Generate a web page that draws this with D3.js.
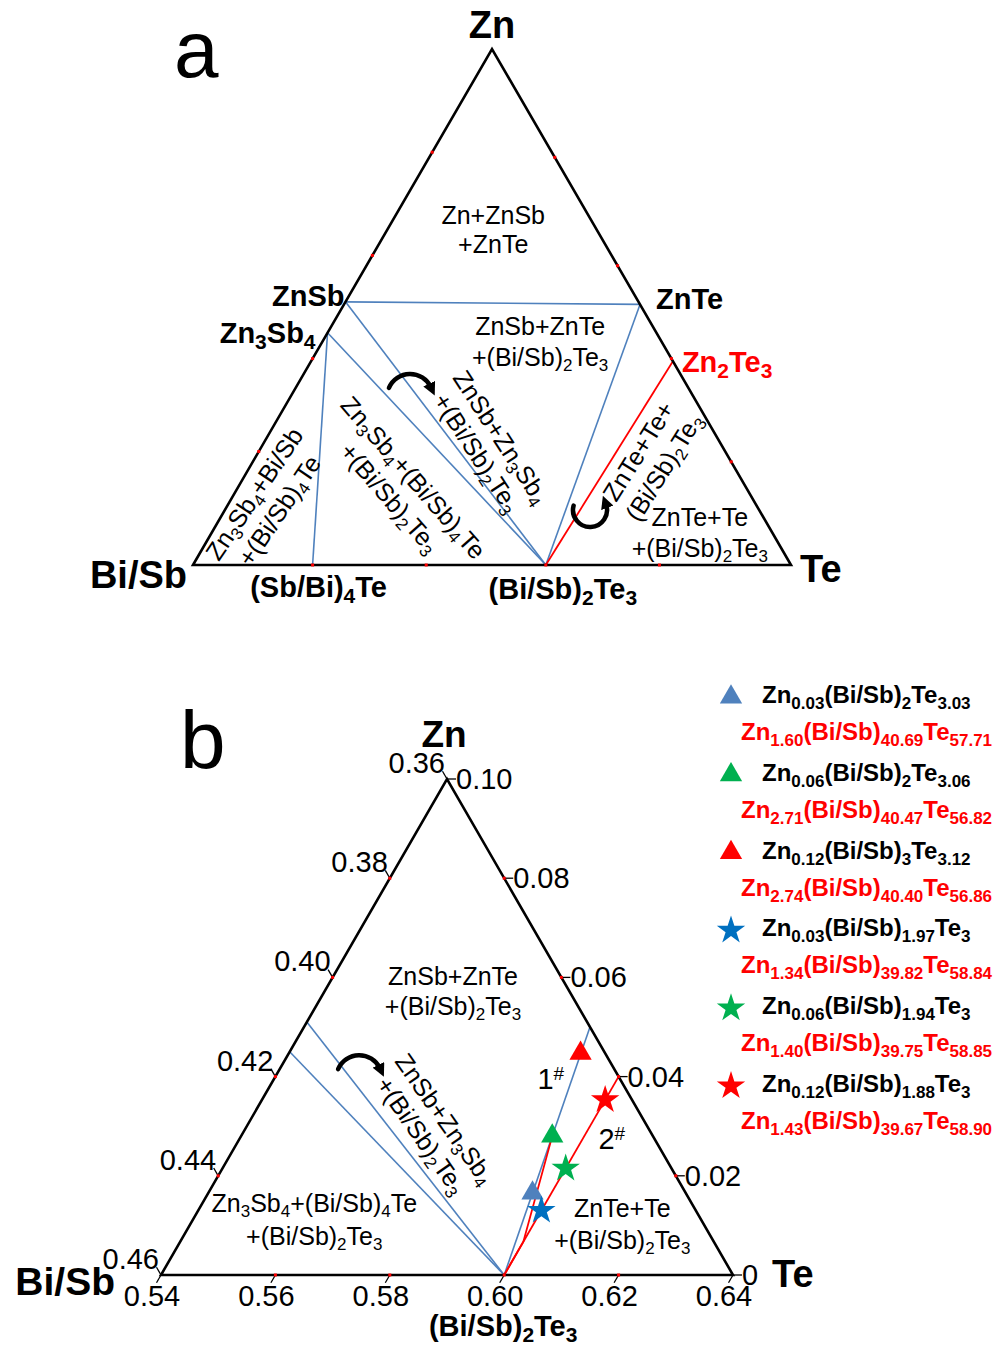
<!DOCTYPE html>
<html>
<head>
<meta charset="utf-8">
<script src="https://cdn.jsdelivr.net/npm/d3@7/dist/d3.min.js"></script>
<style>
  body { margin: 0; background: #fff; }
</style>
</head>
<body>
<div id="chart"></div>
<script>
// ---------- data ----------
// compositions are mole fractions [Zn, Te]; Bi/Sb is the rest
const phaseNamesA = ['ZnSb', 'Zn_{3}Sb_{4}', 'ZnTe', 'Zn_{2}Te_{3}', '(Sb/Bi)_{4}Te', '(Bi/Sb)_{2}Te_{3}'];
const phaseZnA = [0.51, 0.45, 0.505, 0.395, 0, 0];
const phaseTeA = [0, 0, 0.495, 0.605, 0.2, 0.59];
// tie lines, by phase index
const blueTiesA = [[0, 2], [0, 5], [1, 5], [1, 4], [2, 5]];
const redTiesA = [[3, 5]];
// small red marks on the edges of panel a
const dotsLeftA = [0.22, 0.40, 0.60, 0.80];   // Zn on Zn–Bi/Sb edge
const dotsRightA = [0.20, 0.40, 0.58, 0.79];  // Zn on Zn–Te edge
const dotsBaseA = [0.2, 0.39, 0.59, 0.78];    // Te on base

// panel b axis ticks
const ticksTe = [0.54, 0.56, 0.58, 0.60, 0.62, 0.64];
const ticksBiSb = [0.46, 0.44, 0.42, 0.40, 0.38, 0.36];
const ticksZn = [0, 0.02, 0.04, 0.06, 0.08, 0.10];

// panel b lines, as lists of [Zn, Te]
const blueLinesB = [
  [[0.051, 0.54], [0, 0.60]],
  [[0.045, 0.54], [0, 0.60]],
  [[0, 0.60], [0.05, 0.59]]
];
const redLinesB = [
  [[0, 0.60], [0.04, 0.60]],
  [[0, 0.60], [0.0067, 0.60], [0.028, 0.5944]]
];

// samples
const sampleShapes = ['triangle', 'triangle', 'triangle', 'star', 'star', 'star'];
const sampleZn = [0.0165, 0.028, 0.0447, 0.013, 0.0215, 0.0353];
const sampleTe = [0.5967, 0.5944, 0.5910, 0.600, 0.600, 0.600];
const nominalFormulas = [
  'Zn_{0.03}(Bi/Sb)_{2}Te_{3.03}',
  'Zn_{0.06}(Bi/Sb)_{2}Te_{3.06}',
  'Zn_{0.12}(Bi/Sb)_{3}Te_{3.12}',
  'Zn_{0.03}(Bi/Sb)_{1.97}Te_{3}',
  'Zn_{0.06}(Bi/Sb)_{1.94}Te_{3}',
  'Zn_{0.12}(Bi/Sb)_{1.88}Te_{3}'
];
const measuredFormulas = [
  'Zn_{1.60}(Bi/Sb)_{40.69}Te_{57.71}',
  'Zn_{2.71}(Bi/Sb)_{40.47}Te_{56.82}',
  'Zn_{2.74}(Bi/Sb)_{40.40}Te_{56.86}',
  'Zn_{1.34}(Bi/Sb)_{39.82}Te_{58.84}',
  'Zn_{1.40}(Bi/Sb)_{39.75}Te_{58.85}',
  'Zn_{1.43}(Bi/Sb)_{39.67}Te_{58.90}'
];
const sampleColors = ['#4f81bd', '#00b050', '#ff0000', '#0070c0', '#00b050', '#ff0000'];

// region annotations [Zn, Te] of block centre
const regionsA = [
  { lines: ['Zn+ZnSb', '+ZnTe'], zn: 0.650, te: 0.177, angle: 0, gap: 29 },
  { lines: ['ZnSb+ZnTe', '+(Bi/Sb)_{2}Te_{3}'], zn: 0.433, te: 0.364, angle: 0, gap: 31 },
  { lines: ['ZnSb+Zn_{3}Sb_{4}', '+(Bi/Sb)_{2}Te_{3}'], zn: 0.2326, te: 0.379, angle: 57, gap: 29 },
  { lines: ['Zn_{3}Sb_{4}+(Bi/Sb)_{4}Te', '+(Bi/Sb)_{2}Te_{3}'], zn: 0.150, te: 0.274, angle: 49, gap: 31 },
  { lines: ['Zn_{3}Sb_{4}+Bi/Sb', '+(Bi/Sb)_{4}Te'], zn: 0.122, te: 0.062, angle: -56, gap: 30 },
  { lines: ['ZnTe+Te+', '(Bi/Sb)_{2}Te_{3}'], zn: 0.2054, te: 0.663, angle: -58, gap: 30 },
  { lines: ['ZnTe+Te', '+(Bi/Sb)_{2}Te_{3}'], zn: 0.063, te: 0.816, angle: 0, gap: 31 }
];
const regionsB = [
  { lines: ['ZnSb+ZnTe', '+(Bi/Sb)_{2}Te_{3}'], zn: 0.0573, te: 0.5624, angle: 0, gap: 30 },
  { lines: ['Zn_{3}Sb_{4}+(Bi/Sb)_{4}Te', '+(Bi/Sb)_{2}Te_{3}'], zn: 0.0112, te: 0.5612, angle: 0, gap: 33 },
  { lines: ['ZnSb+Zn_{3}Sb_{4}', '+(Bi/Sb)_{2}Te_{3}'], zn: 0.0298, te: 0.5727, angle: 55, gap: 29 },
  { lines: ['ZnTe+Te', '+(Bi/Sb)_{2}Te_{3}'], zn: 0.0103, te: 0.6155, angle: 0, gap: 32 },
  { lines: ['1^{#}'], zn: 0.0393, te: 0.5885, angle: 0, gap: 0 },
  { lines: ['2^{#}'], zn: 0.0272, te: 0.6052, angle: 0, gap: 0 }
];
const arrowsA = [{ zn: 0.3547, te: 0.1856, kind: 'over' }, { zn: 0.093, te: 0.6174, kind: 'under' }];
const arrowsB = [{ zn: 0.0427, te: 0.5533, kind: 'over' }];

// ---------- setup ----------
const FONT = "'Liberation Sans', Arial, Helvetica, sans-serif";
const svg = d3.select('#chart').append('svg')
  .attr('width', 1003).attr('height', 1347)
  .style('background', '#fff');

svg.append('defs').append('marker')
  .attr('id', 'head')
  .attr('markerUnits', 'userSpaceOnUse')
  .attr('viewBox', '0 0 10 10')
  .attr('refX', 3).attr('refY', 5)
  .attr('markerWidth', 13).attr('markerHeight', 13)
  .attr('orient', 'auto')
  .append('path').attr('d', 'M0,0L10,5L0,10z').attr('fill', '#000');

// writes 'Zn_{2}Te_{3}' style strings as tspans
function formula(text, str, subSize, shift) {
  const parts = str.split(/([_^]\{[^}]*\})/).filter(s => s.length);
  let cur = 0;
  parts.forEach(p => {
    let target = 0, txt = p, small = false;
    if (p[0] === '_') { target = shift; txt = p.slice(2, -1); small = true; }
    if (p[0] === '^') { target = -shift * 1.9; txt = p.slice(2, -1); small = true; }
    const t = text.append('tspan').attr('dy', target - cur).text(txt);
    if (small) t.attr('font-size', subSize);
    cur = target;
  });
}

function label(g, x, y, str, o) {
  const t = g.append('text')
    .attr('x', x).attr('y', y)
    .attr('text-anchor', o.anchor || 'middle')
    .attr('font-family', FONT)
    .attr('font-size', o.size)
    .attr('font-weight', o.bold ? 'bold' : 'normal')
    .attr('fill', o.color || '#000');
  formula(t, str, o.sub || Math.round(o.size * 0.7), o.shift || Math.round(o.size * 0.22));
  return t;
}

function ternary(xs, ys) {
  return (zn, te) => [xs(te + zn / 2), ys(zn)];
}

function drawRegions(g, regions, P) {
  regions.forEach(r => {
    const [cx, cy] = P(r.zn, r.te);
    const gg = g.append('g').attr('transform', `translate(${cx},${cy}) rotate(${r.angle})`);
    const n = r.lines.length;
    r.lines.forEach((s, i) => {
      label(gg, 0, (i - (n - 1) / 2) * r.gap + 9, s, { size: n > 1 ? 25 : 29, sub: n > 1 ? 17 : 19, shift: 5 });
    });
  });
}

function drawArrows(g, arrows, P) {
  arrows.forEach(a => {
    const [cx, cy] = P(a.zn, a.te);
    const p = d3.path();
    if (a.kind === 'over') {
      p.arc(0, 15, 23, Math.PI * 1.13, Math.PI * 1.86);
    } else {
      p.arc(0, -7, 17, Math.PI * 195 / 180, -Math.PI * 20 / 180, true);
    }
    g.append('path')
      .attr('transform', `translate(${cx},${cy})`)
      .attr('d', p.toString())
      .attr('fill', 'none').attr('stroke', '#000')
      .attr('stroke-width', 4.5).attr('stroke-linecap', 'round')
      .attr('marker-end', 'url(#head)');
  });
}

// ---------- panel a ----------
const xA = d3.scaleLinear().domain([0, 1]).range([193, 791]);
const yA = d3.scaleLinear().domain([0, 1]).range([565, 49]);
const PA = ternary(xA, yA);
const gA = svg.append('g');
const line = d3.line();

const phaseA = phaseNamesA.map((n, i) => PA(phaseZnA[i], phaseTeA[i]));

blueTiesA.forEach(([a, b]) => {
  gA.append('path').attr('d', line([phaseA[a], phaseA[b]]))
    .attr('fill', 'none').attr('stroke', '#4f81bd').attr('stroke-width', 1.6);
});
redTiesA.forEach(([a, b]) => {
  gA.append('path').attr('d', line([phaseA[a], phaseA[b]]))
    .attr('fill', 'none').attr('stroke', '#ff0000').attr('stroke-width', 1.8);
});

gA.append('path')
  .attr('d', line([PA(0, 0), PA(1, 0), PA(0, 1)]) + 'Z')
  .attr('fill', 'none').attr('stroke', '#000').attr('stroke-width', 2.6)
  .attr('stroke-linejoin', 'miter');

const dotA = [].concat(
  dotsLeftA.map(z => PA(z, 0)),
  dotsRightA.map(z => PA(z, 1 - z)),
  dotsBaseA.map(t => PA(0, t))
);
gA.selectAll('rect.dot').data(dotA).join('rect')
  .attr('x', d => d[0] - 1.5).attr('y', d => d[1] - 1.5)
  .attr('width', 3).attr('height', 3).attr('fill', '#ff0000');

drawRegions(gA, regionsA, PA);
drawArrows(gA, arrowsA, PA);

// vertex + phase labels
label(gA, ...(([x, y]) => [x, y - 11])(PA(1, 0)), 'Zn', { size: 38, bold: true });
label(gA, ...(([x, y]) => [x - 6, y + 23])(PA(0, 0)), 'Bi/Sb', { size: 38, bold: true, anchor: 'end' });
label(gA, ...(([x, y]) => [x + 9, y + 17])(PA(0, 1)), 'Te', { size: 38, bold: true, anchor: 'start' });
const phaseLabelOffsets = [[-1, 4, 'end'], [-12, 10, 'end'], [16, 5, 'start'], [9, 11, 'start'], [6, 32, 'middle'], [17, 34, 'middle']];
phaseA.forEach((p, i) => {
  const [dx, dy, anchor] = phaseLabelOffsets[i];
  label(gA, p[0] + dx, p[1] + dy, phaseNamesA[i], {
    size: 29, sub: 21, shift: 6, bold: true, anchor,
    color: i === 3 ? '#ff0000' : '#000'
  });
});

gA.append('text').attr('x', 174).attr('y', 77)
  .attr('font-family', FONT).attr('font-size', 80).text('a');

// ---------- panel b ----------
const xB = d3.scaleLinear().domain([0.54, 0.64]).range([161, 733]);
const yB = d3.scaleLinear().domain([0, 0.10]).range([1275, 779]);
const PB = ternary(xB, yB);
const gB = svg.append('g');
const fmt = d3.format('.2f');

blueLinesB.forEach(l => {
  gB.append('path').attr('d', line(l.map(d => PB(d[0], d[1]))))
    .attr('fill', 'none').attr('stroke', '#4f81bd').attr('stroke-width', 1.6);
});
redLinesB.forEach(l => {
  gB.append('path').attr('d', line(l.map(d => PB(d[0], d[1]))))
    .attr('fill', 'none').attr('stroke', '#ff0000').attr('stroke-width', 1.8);
});

gB.append('path')
  .attr('d', line([PB(0, 0.54), PB(0, 0.64), PB(0.10, 0.54)]) + 'Z')
  .attr('fill', 'none').attr('stroke', '#000').attr('stroke-width', 2.6);

// axes: ticks, red marks, labels
const tickLen = 9;
const axesB = [
  { vals: ticksTe, pos: v => PB(0, v), dir: [-0.5, 0.866], lab: (p) => [p[0] - 9, p[1] + 31, 'middle'] },
  { vals: ticksBiSb, pos: v => PB(0.46 - v, 0.54), dir: [-0.5, -0.866], lab: (p) => [p[0] - 2, p[1] - 6, 'end'] },
  { vals: ticksZn, pos: v => PB(v, 0.64 - v), dir: [1, 0], lab: (p) => [p[0] + 9, p[1] + 10, 'start'] }
];
axesB.forEach(ax => {
  ax.vals.forEach((v, i) => {
    const p = ax.pos(v);
    gB.append('line')
      .attr('x1', p[0]).attr('y1', p[1])
      .attr('x2', p[0] + ax.dir[0] * tickLen).attr('y2', p[1] + ax.dir[1] * tickLen)
      .attr('stroke', '#000').attr('stroke-width', 1.3);
    if (i > 0 && i < ax.vals.length - 1) {
      gB.append('rect').attr('x', p[0] - 1.5).attr('y', p[1] - 1.5)
        .attr('width', 3).attr('height', 3).attr('fill', '#ff0000');
    }
    const [lx, ly, anchor] = ax.lab(p);
    gB.append('text').attr('x', lx).attr('y', ly)
      .attr('text-anchor', anchor)
      .attr('font-family', FONT).attr('font-size', 29)
      .text(v === 0 ? '0' : fmt(v));
  });
});

drawRegions(gB, regionsB, PB);
drawArrows(gB, arrowsB, PB);

// sample markers
const symbolFor = s => s === 'star' ? d3.symbolStar : d3.symbolTriangle;
const sizeFor = s => s === 'star' ? 250 : 215;
sampleZn.forEach((z, i) => {
  const [x, y] = PB(z, sampleTe[i]);
  gB.append('path')
    .attr('transform', `translate(${x},${y})`)
    .attr('d', d3.symbol().type(symbolFor(sampleShapes[i])).size(sizeFor(sampleShapes[i]))())
    .attr('fill', sampleColors[i]);
});

label(gB, ...(([x, y]) => [x - 3, y - 32])(PB(0.10, 0.54)), 'Zn', { size: 37, bold: true });
label(gB, ...(([x, y]) => [x - 46, y + 20])(PB(0, 0.54)), 'Bi/Sb', { size: 39, bold: true, anchor: 'end' });
label(gB, ...(([x, y]) => [x + 39, y + 12])(PB(0, 0.64)), 'Te', { size: 38, bold: true, anchor: 'start' });
label(gB, ...(([x, y]) => [x - 1, y + 61])(PB(0, 0.60)), '(Bi/Sb)_{2}Te_{3}', { size: 29, sub: 21, shift: 6, bold: true });

gB.append('text').attr('x', 180).attr('y', 768)
  .attr('font-family', FONT).attr('font-size', 82).text('b');

// ---------- legend ----------
const rowY = d3.scaleLinear().domain([0, 5]).range([703, 1092]);
const gL = svg.append('g');
nominalFormulas.forEach((f, i) => {
  const y = rowY(i);
  gL.append('path')
    .attr('transform', `translate(731,${y - 6})`)
    .attr('d', d3.symbol().type(symbolFor(sampleShapes[i])).size(sizeFor(sampleShapes[i]))())
    .attr('fill', sampleColors[i]);
  label(gL, 762, y, f, { size: 24, sub: 17, shift: 6, bold: true, anchor: 'start' });
  label(gL, 741, y + 37, measuredFormulas[i], { size: 24, sub: 17, shift: 6, bold: true, anchor: 'start', color: '#ff0000' });
});
</script>
</body>
</html>
